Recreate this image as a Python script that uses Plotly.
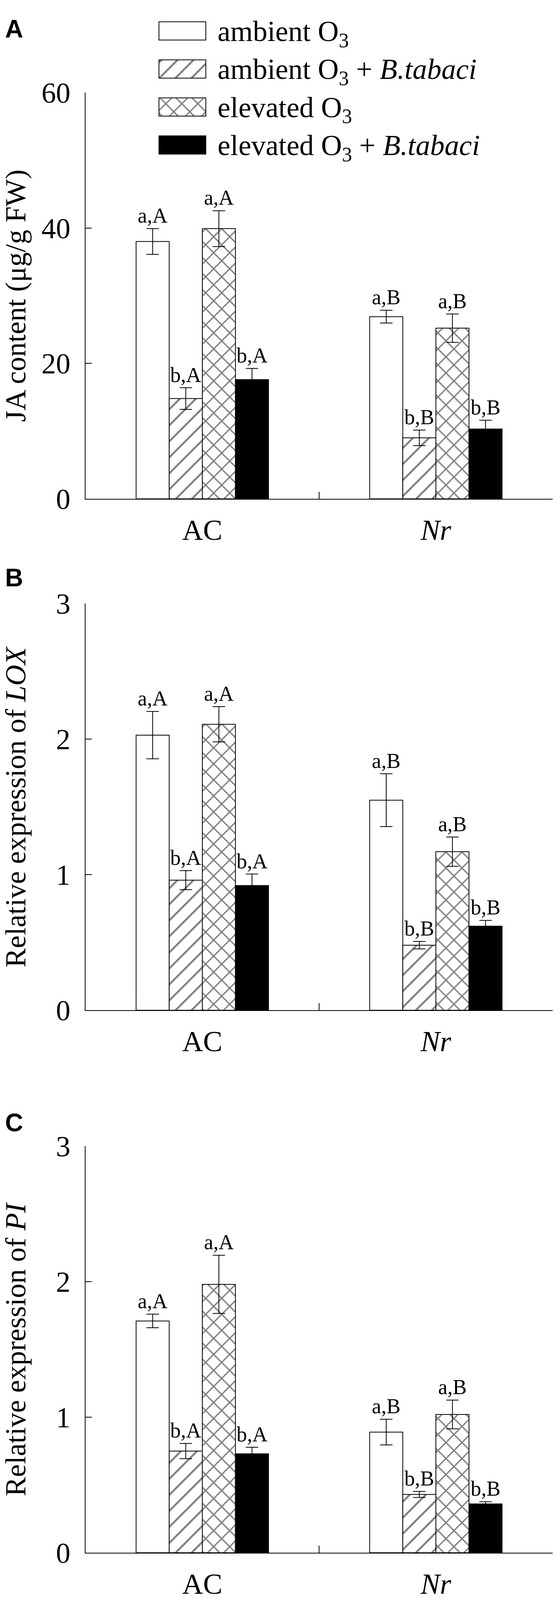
#!/usr/bin/env python3
"""
JA content and LOX / PI expression under ambient and elevated O3, with and without B. tabaci
"""

import plotly.graph_objects as go

# ---- data (rows: treatments, columns: genotypes) ----
genotypes = ["AC", "<i>Nr</i>"]
treatments = [
    "ambient O<sub>3</sub>",
    "ambient O<sub>3</sub> + <i>B.tabaci</i>",
    "elevated O<sub>3</sub>",
    "elevated O<sub>3</sub> + <i>B.tabaci</i>",
]

ja_means = [[38.0, 26.9], [14.8, 9.0], [39.9, 25.2], [17.6, 10.3]]
ja_errs = [[1.9, 0.95], [1.6, 1.15], [2.65, 2.1], [1.65, 1.3]]

lox_means = [[2.03, 1.55], [0.96, 0.48], [2.11, 1.17], [0.92, 0.62]]
lox_errs = [[0.175, 0.195], [0.07, 0.028], [0.13, 0.108], [0.085, 0.043]]

pi_means = [[1.71, 0.89], [0.75, 0.43], [1.98, 1.02], [0.73, 0.36]]
pi_errs = [[0.05, 0.095], [0.056, 0.022], [0.215, 0.106], [0.048, 0.016]]

letters = [["a,A", "a,B"], ["b,A", "b,B"], ["a,A", "a,B"], ["b,A", "b,B"]]

y_titles = [
    "JA content (μg/g FW)",
    "Relative expression of <i>LOX</i>",
    "Relative expression of <i>PI</i>",
]
y_ranges = [[0, 60], [0, 3], [0, 3]]
y_dticks = [20, 1, 1]
panel_labels = ["A", "B", "C"]

SERIF = "Liberation Serif"
W, H = 1421, 4112


def bar_marker(i):
    """Fill style for each treatment"""
    line = dict(color="black", width=2)
    if i == 0:
        return dict(color="white", line=line)
    if i == 1:
        return dict(color="white", line=line,
                    pattern=dict(shape="/", fgcolor="black", bgcolor="white", size=29, solidity=0.17))
    if i == 2:
        return dict(color="white", line=line,
                    pattern=dict(shape="x", fgcolor="black", bgcolor="white", size=29, solidity=0.22))
    return dict(color="black", line=line)


def px_y(top_px, bottom_px):
    return [1 - bottom_px / H, 1 - top_px / H]


fig = go.Figure()

panels = [(ja_means, ja_errs), (lox_means, lox_errs), (pi_means, pi_errs)]
y_domains = [px_y(201, 1262), px_y(1536, 2598), px_y(2953, 4015)]
x_domain = [219 / W, 1415 / W]

for p, (means, errs) in enumerate(panels):
    sfx = "" if p == 0 else str(p + 1)
    for i in range(len(treatments)):
        fig.add_trace(go.Bar(
            x=genotypes, y=means[i],
            error_y=dict(type="data", array=errs[i], color="black", thickness=2, width=16),
            marker=bar_marker(i),
            offsetgroup=str(i),
            showlegend=False, hoverinfo="skip",
            xaxis="x" + sfx, yaxis="y" + sfx,
        ))
        # invisible bar reaching the top of the error bar, carrying the letters
        tops = [m + e for m, e in zip(means[i], errs[i])]
        fig.add_trace(go.Bar(
            x=genotypes, y=tops,
            text=letters[i], textposition="outside", constraintext="none",
            textfont=dict(family=SERIF, size=54, color="black"),
            cliponaxis=False,
            marker=dict(color="rgba(0,0,0,0)", line=dict(width=0)),
            offsetgroup=str(i),
            showlegend=False, hoverinfo="skip",
            xaxis="x" + sfx, yaxis="y" + sfx,
        ))

    fig.update_layout({
        "xaxis" + sfx: dict(
            domain=x_domain, anchor="y" + sfx, type="category",
            range=[-0.5, 1.5], showline=True, linecolor="black", linewidth=2,
            ticks="inside", tickson="boundaries", ticklen=18, tickwidth=2, tickcolor="black",
            showgrid=False, zeroline=False,
            tickfont=dict(family=SERIF, size=74, color="black"),
            ticklabelstandoff=14,
        ),
        "yaxis" + sfx: dict(
            domain=y_domains[p], anchor="x" + sfx,
            range=y_ranges[p], dtick=y_dticks[p],
            showline=True, linecolor="black", linewidth=2,
            ticks="inside", ticklen=16, tickwidth=2, tickcolor="black",
            showgrid=False, zeroline=False,
            tickfont=dict(family=SERIF, size=74, color="black"),
            ticklabelstandoff=22,
        ),
    })

    mid = (y_domains[p][0] + y_domains[p][1]) / 2
    fig.add_annotation(
        text=y_titles[p], xref="paper", yref="paper",
        x=40 / W, y=mid, xanchor="center", yanchor="middle",
        textangle=-90, showarrow=False,
        font=dict(family=SERIF, size=74, color="black"),
    )

# panel letters
for lbl, ypx in zip(panel_labels, [35, 1468, 2892]):
    fig.add_annotation(
        text="<b>%s</b>" % lbl, xref="paper", yref="paper",
        x=36 / W, y=1 - ypx / H, xanchor="center", yanchor="middle",
        showarrow=False,
        font=dict(family="Liberation Sans", size=64, color="black"),
    )

# legend drawn as a small horizontal-bar axis so the swatches can be large
for i, name in enumerate(treatments):
    fig.add_trace(go.Bar(
        x=[1], y=[name], orientation="h", width=0.48,
        marker=bar_marker(i), offsetgroup="legend",
        showlegend=False, hoverinfo="skip",
        xaxis="x4", yaxis="y4",
    ))

fig.update_layout(
    xaxis4=dict(domain=[404 / W, 530 / W], anchor="y4", range=[-0.025, 1.025], visible=False),
    yaxis4=dict(
        domain=[1 - 400 / H, 1], anchor="x4", type="category",
        categoryorder="array", categoryarray=treatments,
        range=[3.625, -0.403], side="right",
        showline=False, ticks="", showgrid=False, zeroline=False,
        tickfont=dict(family=SERIF, size=74, color="black"),
        ticklabelstandoff=26,
    ),
    barmode="group",
    bargap=0.433,
    bargroupgap=0,
    width=W, height=H,
    margin=dict(l=0, r=0, t=0, b=0),
    paper_bgcolor="white",
    plot_bgcolor="white",
    showlegend=False,
)

fig.write_html("out.html", config={"displayModeBar": False},
               post_script="document.body.style.margin='0';")
